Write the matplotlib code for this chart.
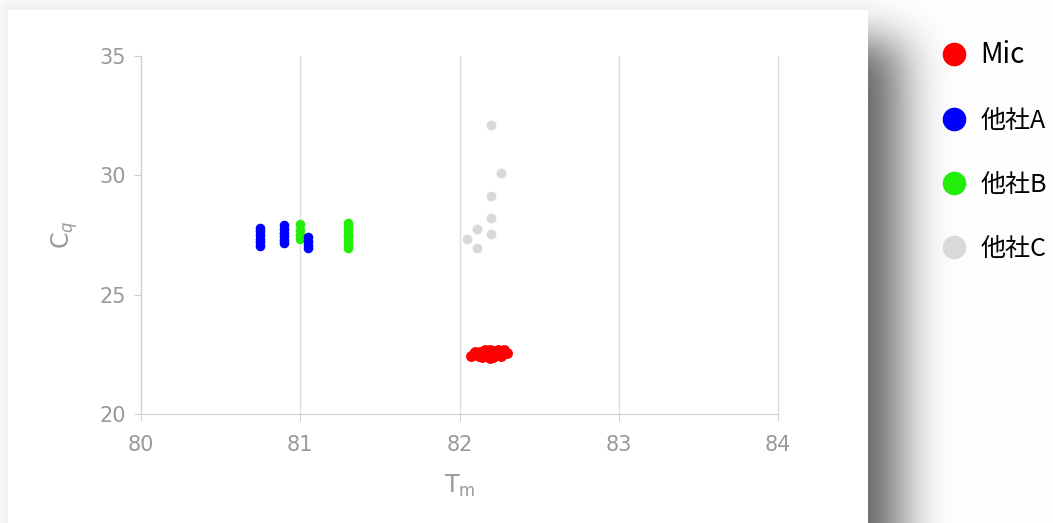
import math
import numpy as np
import matplotlib
matplotlib.use('Agg')
import matplotlib.pyplot as plt
from matplotlib.lines import Line2D

# data
mic_x = [82.07, 82.09, 82.10, 82.12, 82.13, 82.15, 82.16, 82.17, 82.18, 82.19, 82.20,
         82.21, 82.22, 82.23, 82.24, 82.25, 82.26, 82.27, 82.28, 82.30, 82.14, 82.19]
mic_y = [22.42, 22.50, 22.58, 22.45, 22.60, 22.52, 22.68, 22.42, 22.60, 22.70, 22.50,
         22.38, 22.62, 22.48, 22.68, 22.55, 22.42, 22.60, 22.70, 22.55, 22.38, 22.35]

a_x = [80.75] * 6 + [80.90] * 6 + [81.05] * 4
a_y = [27.05, 27.2, 27.35, 27.5, 27.65, 27.8,
       27.15, 27.3, 27.45, 27.6, 27.75, 27.9,
       26.95, 27.1, 27.25, 27.4]

b_x = [81.0] * 4 + [81.3] * 8
b_y = [27.35, 27.5, 27.7, 27.95,
       26.95, 27.1, 27.25, 27.4, 27.55, 27.7, 27.85, 28.0]

c_x = [82.20, 82.26, 82.20, 82.20, 82.11, 82.20, 82.05, 82.11]
c_y = [32.1, 30.1, 29.15, 28.2, 27.75, 27.55, 27.33, 26.95]

names = ['Mic', '他社A', '他社B', '他社C']
colors = ['#ff0000', '#0000ff', '#22ee0a', '#d9d9d9']

W, H = 1053, 523
fig = plt.figure(figsize=(W / 100, H / 100), dpi=100, facecolor='white')

# background: white card with a soft drop shadow on the right
erfc = np.vectorize(math.erfc)
xx = np.arange(W) + 0.5
yy = np.arange(H) + 0.5
r2 = 25 * math.sqrt(2)
sx = 0.5 * erfc((xx - 900) / r2) * (1 - 0.5 * erfc((xx - 60) / r2))
sy = 1 - 0.5 * erfc((yy - 40) / (22 * math.sqrt(2)))
dark = 0.62 * np.outer(sy, sx)
# faint halo round the card
dx = np.maximum(np.maximum(8 - xx, xx - 868), 0)
dy = np.maximum(10 - yy, 0)
dist = np.sqrt(dy[:, None] ** 2 + dx[None, :] ** 2)
faint = 0.06 * np.exp(-dist / 12)
img = 1 - np.maximum(dark, faint)
img[10:, 8:868] = 1.0
bg = fig.add_axes([0, 0, 1, 1], zorder=-10)
bg.imshow(np.dstack([img] * 3), extent=[0, W, H, 0], aspect='auto', interpolation='bilinear')
bg.set_xlim(0, W)
bg.set_ylim(H, 0)
bg.axis('off')

ax = fig.add_axes([141 / W, 1 - 414 / H, 637 / W, 358 / H])
ax.set_facecolor('none')
ax.scatter(mic_x, mic_y, s=62, color=colors[0], linewidths=0, zorder=3)
ax.scatter(b_x, b_y, s=48, color=colors[2], linewidths=0, zorder=3)
ax.scatter(a_x, a_y, s=48, color=colors[1], linewidths=0, zorder=3)
ax.scatter(c_x, c_y, s=50, color=colors[3], linewidths=0, zorder=3)

ax.set_xlim(80, 84)
ax.set_ylim(20, 35)
ax.set_xticks([80, 81, 82, 83, 84])
ax.set_yticks([20, 25, 30, 35])
ax.grid(axis='x', color='#dddddd', linewidth=1)
for gl in ax.get_xgridlines():
    gl.set_clip_on(False)
ax.set_axisbelow(True)
for s in ['top', 'right']:
    ax.spines[s].set_visible(False)
for s in ['left', 'bottom']:
    ax.spines[s].set_color('#d0d0d0')
ax.tick_params(colors='#d0d0d0', labelcolor='#999999', labelsize=15, length=5, pad=6)
ax.tick_params(axis='x', pad=10)

ax.set_xlabel(r'T$_{\rm m}$', color='#999999', fontsize=17, labelpad=13)
ax.set_ylabel(r'C$_q$', color='#999999', fontsize=17, labelpad=14)

handles = [Line2D([], [], linestyle='none', marker='o', markersize=17,
                  markerfacecolor=c, markeredgewidth=0) for c in colors]
leg = fig.legend(handles, names, loc='upper left', bbox_to_anchor=(939 / W, 1 - 40 / H),
                 frameon=False, handletextpad=0.45, labelspacing=1.52, borderpad=0,
                 borderaxespad=0, handlelength=1.2,
                 prop={'family': ['Noto Sans CJK JP', 'DejaVu Sans'], 'size': 18})
leg.get_texts()[0].set_fontsize(20)

fig.savefig('out.png', dpi=100, facecolor='white')
